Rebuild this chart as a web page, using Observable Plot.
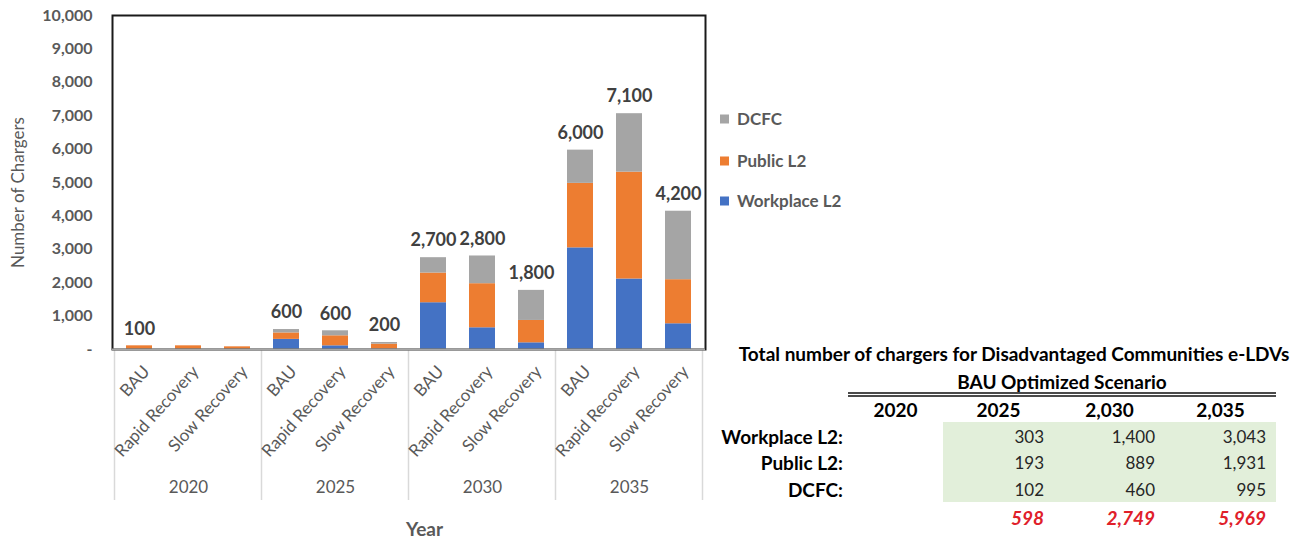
<!DOCTYPE html>
<html><head><meta charset="utf-8">
<script src="https://cdn.jsdelivr.net/npm/d3@7"></script>
<script src="https://cdn.jsdelivr.net/npm/@observablehq/plot@0.6"></script>
<style>
body{margin:0;background:#fff;font-family:Lato,"Noto Sans",sans-serif;}
#wrap{position:relative;width:1307px;height:540px;overflow:hidden;background:#fff;}
#wrap svg{position:absolute;left:0;top:0;}
.t{position:absolute;white-space:nowrap;line-height:1;}
.sw{display:inline-block;width:9px;height:9px;margin-right:8px;vertical-align:middle;position:relative;top:-1px;}
</style></head><body><div id="wrap"></div><script>
// ---- data ----
const years = ["2020", "2025", "2030", "2035"];
const scenarios = ["BAU", "Rapid Recovery", "Slow Recovery"];
const seriesNames = ["Workplace L2", "Public L2", "DCFC"];
const seriesColors = ["#4472c4", "#ed7d31", "#a5a5a5"];
const workplace = [0, 0, 0, 303, 110, 10, 1400, 650, 200, 3043, 2110, 770];
const publicL2 = [110, 110, 80, 193, 300, 150, 889, 1320, 670, 1931, 3200, 1320];
const dcfc = [0, 0, 0, 102, 150, 50, 460, 830, 900, 995, 1750, 2050];
const totalLabels = ["100", "", "", "600", "600", "200", "2,700", "2,800", "1,800", "6,000", "7,100", "4,200"];
const yTicks = [0, 1000, 2000, 3000, 4000, 5000, 6000, 7000, 8000, 9000, 10000];
const yTitle = "Number of Chargers";
const xTitle = "Year";

const tableTitle = "Total number of chargers for Disadvantaged Communities e-LDVs";
const tableSubtitle = "BAU Optimized Scenario";
const tableYears = ["2020", "2025", "2,030", "2,035"];
const tableRowNames = ["Workplace L2:", "Public L2:", "DCFC:"];
const tableWorkplace = ["", "303", "1,400", "3,043"];
const tablePublic = ["", "193", "889", "1,931"];
const tableDCFC = ["", "102", "460", "995"];
const tableTotals = ["", "598", "2,749", "5,969"];

// ---- build ----
const keys = years.flatMap(y => scenarios.map(s => y + "|" + s));
const seriesValues = [workplace, publicL2, dcfc];
const rows = keys.flatMap((k, i) => seriesNames.map((s, j) => ({key: k, series: s, value: seriesValues[j][i]})));
const totals = keys.map((k, i) => ({key: k, total: workplace[i] + publicL2[i] + dcfc[i], label: totalLabels[i]})).filter(d => d.label);

const gray = "#595959";
const chart = Plot.plot({
  width: 720, height: 540,
  marginLeft: 112, marginRight: 15, marginTop: 15, marginBottom: 191,
  style: {fontFamily: "Lato, sans-serif", background: "transparent", overflow: "visible"},
  x: {domain: keys, paddingInner: 0.47, paddingOuter: 0.235, label: null},
  y: {domain: [0, 10000], label: null},
  color: {domain: seriesNames, range: seriesColors},
  marks: [
    Plot.barY(rows, {x: "key", y: "value", fill: "series", order: seriesNames}),
    Plot.text(totals, {x: "key", y: "total", text: "label", dy: -17, fontSize: 18, fontWeight: "bold", fill: "#404040"}),
    Plot.axisY({ticks: yTicks, tickSize: 0, tickPadding: 20, fontSize: 16, fontWeight: "bold",
      tickFormat: d => d === 0 ? "-" : d3.format(",")(d),
      label: yTitle, labelAnchor: "center", labelOffset: 101, labelArrow: "none"}),
    Plot.axisX({tickRotate: -48, tickSize: 0, tickPadding: 19, dx: 7, fontSize: 17,
      tickFormat: k => k.split("|")[1], label: null}),
    Plot.text(years, {x: y => y + "|Rapid Recovery", frameAnchor: "bottom", dy: 143, text: d => d, fontSize: 17, fill: gray}),
    Plot.text([xTitle], {x: () => "2025|Slow Recovery", frameAnchor: "bottom", dy: 186, dx: 40, text: d => d, fontSize: 19, fontWeight: "bold", fill: gray}),
    Plot.frame({stroke: "#1a1a1a", strokeWidth: 2}),
    Plot.ruleY([0], {stroke: "#a6a6a6", strokeWidth: 2})
  ]
});

const wrap = document.getElementById("wrap");
wrap.appendChild(chart);
const svg = d3.select(chart);
svg.selectAll('[aria-label="y-axis tick label"] text, [aria-label="y-axis tick label"]').attr("fill", gray);
svg.selectAll('[aria-label="x-axis tick label"] text, [aria-label="x-axis tick label"]').attr("fill", gray);
svg.selectAll('[aria-label="y-axis label"]').attr("font-weight", "normal").attr("font-size", 17).attr("fill", gray);
svg.selectAll('[aria-label="y-axis label"] text').attr("font-weight", "normal").attr("font-size", 17).attr("fill", gray).attr("dx", "-10");

// group dividers from scales
const xs = chart.scale("x"), ys = chart.scale("y");
const step = xs.step != null ? xs.step : (xs.range[1] - xs.range[0]) / keys.length;
const gap = step - xs.bandwidth;
const y0 = ys.apply(0);
const bounds = years.map(y => xs.apply(y + "|BAU") - gap / 2);
bounds.push(xs.apply(keys[keys.length - 1]) + xs.bandwidth + gap / 2);
svg.insert("g", ":first-child").selectAll("line").data(bounds).join("line")
  .attr("x1", d => d).attr("x2", d => d).attr("y1", y0).attr("y2", y0 + 151)
  .attr("stroke", "#d9d9d9").attr("stroke-width", 1.5);

// ---- html helpers ----
function put(txt, x, y, anchor, css) {
  const d = document.createElement("div");
  d.className = "t";
  d.textContent = txt;
  d.style.left = x + "px";
  d.style.top = y + "px";
  const tx = anchor === "middle" ? "-50%" : anchor === "end" ? "-100%" : "0";
  d.style.transform = `translate(${tx}, -50%)`;
  Object.assign(d.style, css || {});
  wrap.appendChild(d);
  return d;
}

// legend (top to bottom: DCFC, Public L2, Workplace L2)
const legendY = [118, 160, 200];
seriesNames.slice().reverse().forEach((name, i) => {
  const d = put("", 720, legendY[i], "start", {fontSize: "17px", fontWeight: "bold", color: gray});
  const sw = document.createElement("span");
  sw.className = "sw";
  sw.style.background = seriesColors[seriesNames.length - 1 - i];
  d.appendChild(sw);
  d.appendChild(document.createTextNode(name));
});

// table
const colEdges = [848, 943, 1054, 1165, 1276];
const green = document.createElement("div");
Object.assign(green.style, {position: "absolute", left: colEdges[1] + "px", top: "422px", width: (colEdges[4] - colEdges[1]) + "px", height: "80px", background: "#e2efda"});
wrap.appendChild(green);
const dbl = document.createElement("div");
Object.assign(dbl.style, {position: "absolute", left: colEdges[0] + "px", top: "392px", width: (colEdges[4] - colEdges[0]) + "px", height: "1px", borderTop: "2px solid #4a4a4a", borderBottom: "2px solid #4a4a4a"});
wrap.appendChild(dbl);

const bold = {fontSize: "19px", fontWeight: "bold", color: "#000"};
put(tableTitle, 1014, 353, "middle", bold);
put(tableSubtitle, (colEdges[0] + colEdges[4]) / 2, 381, "middle", bold);
tableYears.forEach((y, i) => put(y, (colEdges[i] + colEdges[i + 1]) / 2, 409, "middle", bold));
const rowY = [436, 462, 489];
const tableVals = [tableWorkplace, tablePublic, tableDCFC];
tableRowNames.forEach((r, j) => {
  put(r, 843, rowY[j], "end", bold);
  tableVals[j].forEach((v, i) => { if (v) put(v, colEdges[i + 1] - 10, rowY[j], "end", {fontSize: "17px", color: "#262626"}); });
});
tableTotals.forEach((v, i) => { if (v) put(v, colEdges[i + 1] - 10, 517, "end", {fontSize: "19px", fontWeight: "bold", fontStyle: "italic", color: "#e0202a"}); });
</script></body></html>
